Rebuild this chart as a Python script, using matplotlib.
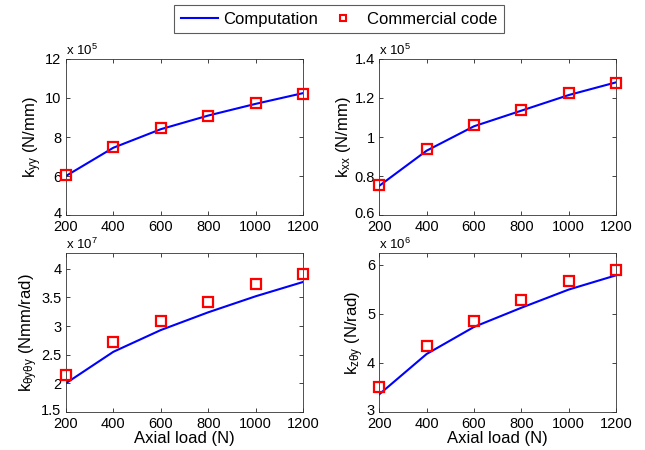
import matplotlib
matplotlib.use("Agg")
import matplotlib.pyplot as plt
import matplotlib.transforms as mtransforms
from matplotlib.lines import Line2D

plt.rcParams['font.family'] = ['Liberation Sans', 'DejaVu Sans']
plt.rcParams['mathtext.fontset'] = 'custom'
plt.rcParams['mathtext.rm'] = 'Liberation Sans'
plt.rcParams['mathtext.it'] = 'Liberation Sans:italic'

axial_load = [200, 400, 600, 800, 1000, 1200]

# mantissas (values = mantissa * 10**exponent)
kyy_comp = [6.0, 7.45, 8.4, 9.1, 9.7, 10.25]
kyy_code = [6.03, 7.5, 8.44, 9.08, 9.75, 10.22]
kxx_comp = [0.75, 0.93, 1.055, 1.135, 1.215, 1.28]
kxx_code = [0.754, 0.937, 1.06, 1.139, 1.224, 1.279]
kty_comp = [2.0, 2.55, 2.93, 3.24, 3.52, 3.77]
kty_code = [2.14, 2.73, 3.09, 3.42, 3.73, 3.91]
kzt_comp = [3.36, 4.18, 4.73, 5.12, 5.49, 5.78]
kzt_code = [3.5, 4.35, 4.85, 5.28, 5.67, 5.89]

panels = [
    dict(comp=kyy_comp, code=kyy_code, exp=5, ylabel=r'k$_{\mathrm{yy}}$ (N/mm)',
         ylim=(4, 12), yticks=[4, 6, 8, 10, 12], yticklabels=['4', '6', '8', '10', '12']),
    dict(comp=kxx_comp, code=kxx_code, exp=5, ylabel=r'k$_{\mathrm{xx}}$ (N/mm)',
         ylim=(0.6, 1.4), yticks=[0.6, 0.8, 1.0, 1.2, 1.4], yticklabels=['0.6', '0.8', '1', '1.2', '1.4']),
    dict(comp=kty_comp, code=kty_code, exp=7, ylabel=r'k$_{\mathrm{θyθy}}$ (Nmm/rad)',
         ylim=(1.5, 4.28), yticks=[1.5, 2, 2.5, 3, 3.5, 4], yticklabels=['1.5', '2', '2.5', '3', '3.5', '4']),
    dict(comp=kzt_comp, code=kzt_code, exp=6, ylabel=r'k$_{\mathrm{zθy}}$ (N/rad)',
         ylim=(3, 6.24), yticks=[3, 4, 5, 6], yticklabels=['3', '4', '5', '6']),
]

fig = plt.figure(figsize=(6.45, 4.5), dpi=100)
positions = [
    [0.102, 0.522, 0.368, 0.347],
    [0.588, 0.522, 0.367, 0.347],
    [0.102, 0.0844, 0.368, 0.354],
    [0.588, 0.0844, 0.367, 0.354],
]

for i, (p, pos) in enumerate(zip(panels, positions)):
    ax = fig.add_axes(pos)
    ax.plot(axial_load, p['comp'], color='#0000ff', lw=1.5)
    ax.plot(axial_load, p['code'], ls='none', marker='s', ms=7, mfc='none',
            mec='#ff0000', mew=1.6, clip_on=False, zorder=3)
    ax.set_xlim(200, 1200)
    ax.set_xticks([200, 400, 600, 800, 1000, 1200])
    ax.set_ylim(*p['ylim'])
    ax.set_yticks(p['yticks'])
    ax.set_yticklabels(p['yticklabels'])
    ax.tick_params(direction='in', top=True, right=True, labelsize=10.5, length=3,
                   width=0.6, colors='#222222', labelcolor='black')
    ax.tick_params(axis='x', pad=3.5)
    ax.tick_params(axis='y', pad=3)
    for s in ax.spines.values():
        s.set_linewidth(0.6)
        s.set_color('#333333')
    # nudge the lowest y tick label up slightly so it does not collide with "200"
    low = ax.get_yticklabels()[0]
    low.set_transform(low.get_transform() +
                      mtransforms.ScaledTranslation(0, 2 / 72, fig.dpi_scale_trans))
    ax.set_ylabel(p['ylabel'], fontsize=12, labelpad=1)
    ax.text(0.0, 1.006, r'x 10$^{%d}$' % p['exp'], transform=ax.transAxes,
            fontsize=9.5, ha='left', va='bottom')
    if i >= 2:
        ax.set_xlabel('Axial load (N)', fontsize=12, labelpad=0)

handles = [Line2D([], [], color='#0000ff', lw=1.5),
           Line2D([], [], ls='none', marker='s', ms=5, mfc='none', mec='#ff0000', mew=1.5)]
leg = fig.legend(handles, ['Computation', 'Commercial code'], loc='upper center',
                 bbox_to_anchor=(0.5256, 0.989), borderaxespad=0, ncol=2, fontsize=12,
                 frameon=True, fancybox=False, edgecolor='#333333', handlelength=2.2,
                 columnspacing=0.45, handletextpad=0.3, borderpad=0.4)
leg.get_frame().set_linewidth(0.8)

fig.savefig('out.png', dpi=100)
